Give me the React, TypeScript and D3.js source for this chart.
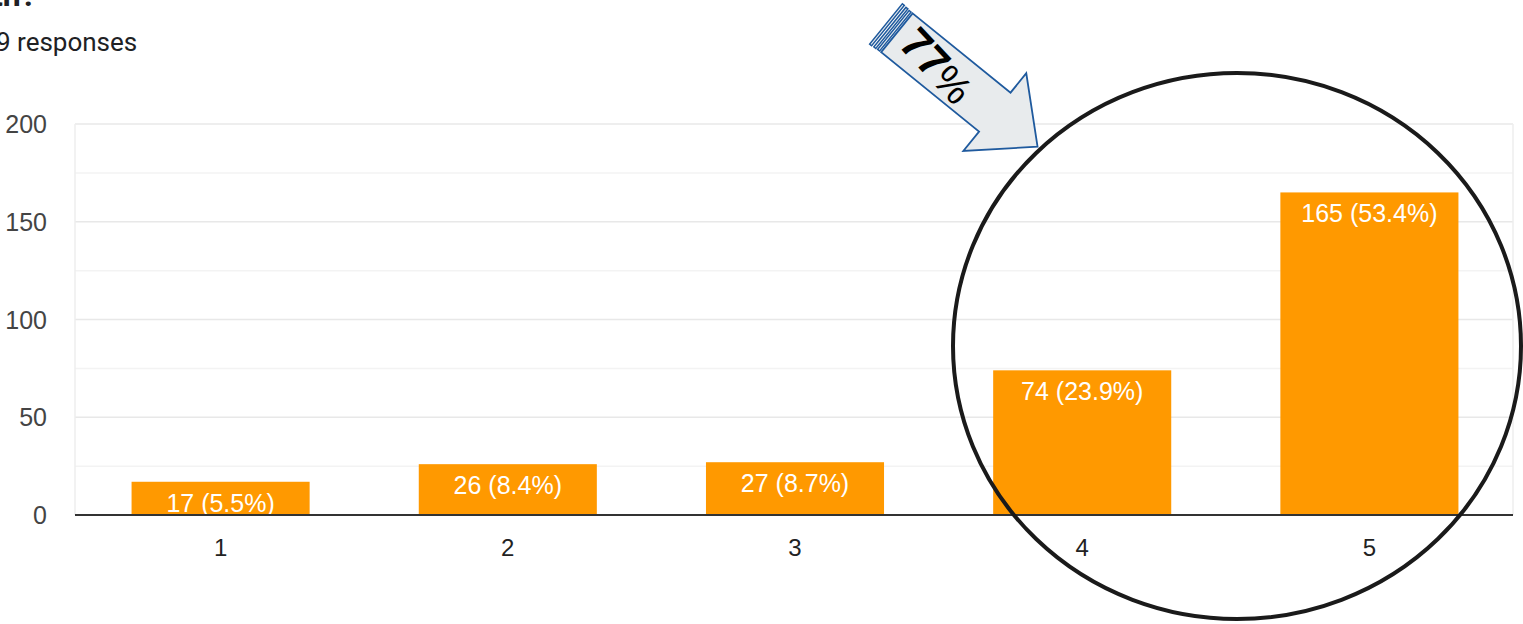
import React from "react";
import * as d3 from "d3";

const categories = ["1", "2", "3", "4", "5"];
const counts = [17, 26, 27, 74, 165];
const percents = ["5.5%", "8.4%", "8.7%", "23.9%", "53.4%"];
const yTicks = [0, 50, 100, 150, 200];
const yMinorTicks = [25, 75, 125, 175];
const calloutText = "77";

const W = 1523;
const H = 624;
const FONT = "'Liberation Sans', Arial, sans-serif";
const RFONT = "Roboto, 'Liberation Sans', Arial, sans-serif";

export default function App() {
  const x = d3.scaleBand<string>().domain(categories).range([77, 1513]).paddingInner(0.38).paddingOuter(0.19);
  const y = d3.scaleLinear().domain([0, 200]).range([515, 124]);

  const L = 195, bw = 25, hw = 50, hl = 55;
  const body = [
    [14, -bw], [L - hl, -bw], [L - hl, -hw], [L, 0], [L - hl, hw], [L - hl, bw], [14, bw],
  ].map((p) => p.join(",")).join(" ");

  return (
    <svg width={W} height={H} style={{ position: "absolute", left: 0, top: 0, background: "#fff" }}>
      <text x={-8} y={6} fontFamily={RFONT} fontSize={32} fontWeight="bold" fill="#202124">th?</text>
      <text x={-4} y={51} fontFamily={RFONT} fontSize={26} fill="#202124">9 responses</text>

      {yMinorTicks.map((t) => (
        <line key={"m" + t} x1={75} x2={1513} y1={y(t)} y2={y(t)} stroke="#f3f3f3" strokeWidth={1.5} />
      ))}
      {yTicks.filter((t) => t > 0).map((t) => (
        <line key={"g" + t} x1={75} x2={1513} y1={y(t)} y2={y(t)} stroke="#e8e8e8" strokeWidth={1.5} />
      ))}
      <line x1={75} x2={75} y1={124} y2={515} stroke="#eeeeee" strokeWidth={1.5} />
      <line x1={1513} x2={1513} y1={124} y2={515} stroke="#eeeeee" strokeWidth={1.5} />

      {yTicks.map((t) => (
        <text key={"t" + t} x={47} y={y(t)} dy="0.36em" textAnchor="end" fontFamily={FONT} fontSize={25} fill="#444">{t}</text>
      ))}

      {categories.map((c, i) => (
        <g key={c}>
          <rect x={x(c)} y={y(counts[i])} width={x.bandwidth()} height={y(0) - y(counts[i])} fill="#ff9900" />
          <text x={(x(c) as number) + x.bandwidth() / 2} y={y(counts[i]) + 30} textAnchor="middle" fontFamily={FONT} fontSize={25} fill="#fff">
            {`${counts[i]} (${percents[i]})`}
          </text>
          <text x={(x(c) as number) + x.bandwidth() / 2} y={547} dy="0.36em" textAnchor="middle" fontFamily={FONT} fontSize={24} fill="#222">{c}</text>
        </g>
      ))}

      <line x1={75} x2={1513} y1={y(0)} y2={y(0)} stroke="#333" strokeWidth={2} />

      <ellipse cx={1237} cy={346} rx={284} ry={273} fill="none" stroke="#1a1a1a" strokeWidth={4} />

      <g transform="translate(886,24) rotate(39)">
        <rect x={0} y={-bw - 1} width={2.5} height={2 * bw + 2} fill="#e8ebed" stroke="#1f5a9e" strokeWidth={1.5} />
        <rect x={5} y={-bw - 0.5} width={2.5} height={2 * bw + 1} fill="#e8ebed" stroke="#1f5a9e" strokeWidth={1.5} />
        <rect x={9.5} y={-bw} width={2.5} height={2 * bw} fill="#e8ebed" stroke="#1f5a9e" strokeWidth={1.5} />
        <polygon points={body} fill="#e8ebed" stroke="#1f5a9e" strokeWidth={1.8} />
        <g transform="translate(66,0) rotate(8)">
          <text x={0} y={0} dy="0.35em" textAnchor="middle" fontFamily={FONT} fontSize={44} fontWeight={900} fill="#000">
            {calloutText}
            <tspan fontWeight="normal" fontSize={40}>%</tspan>
          </text>
        </g>
      </g>
    </svg>
  );
}
